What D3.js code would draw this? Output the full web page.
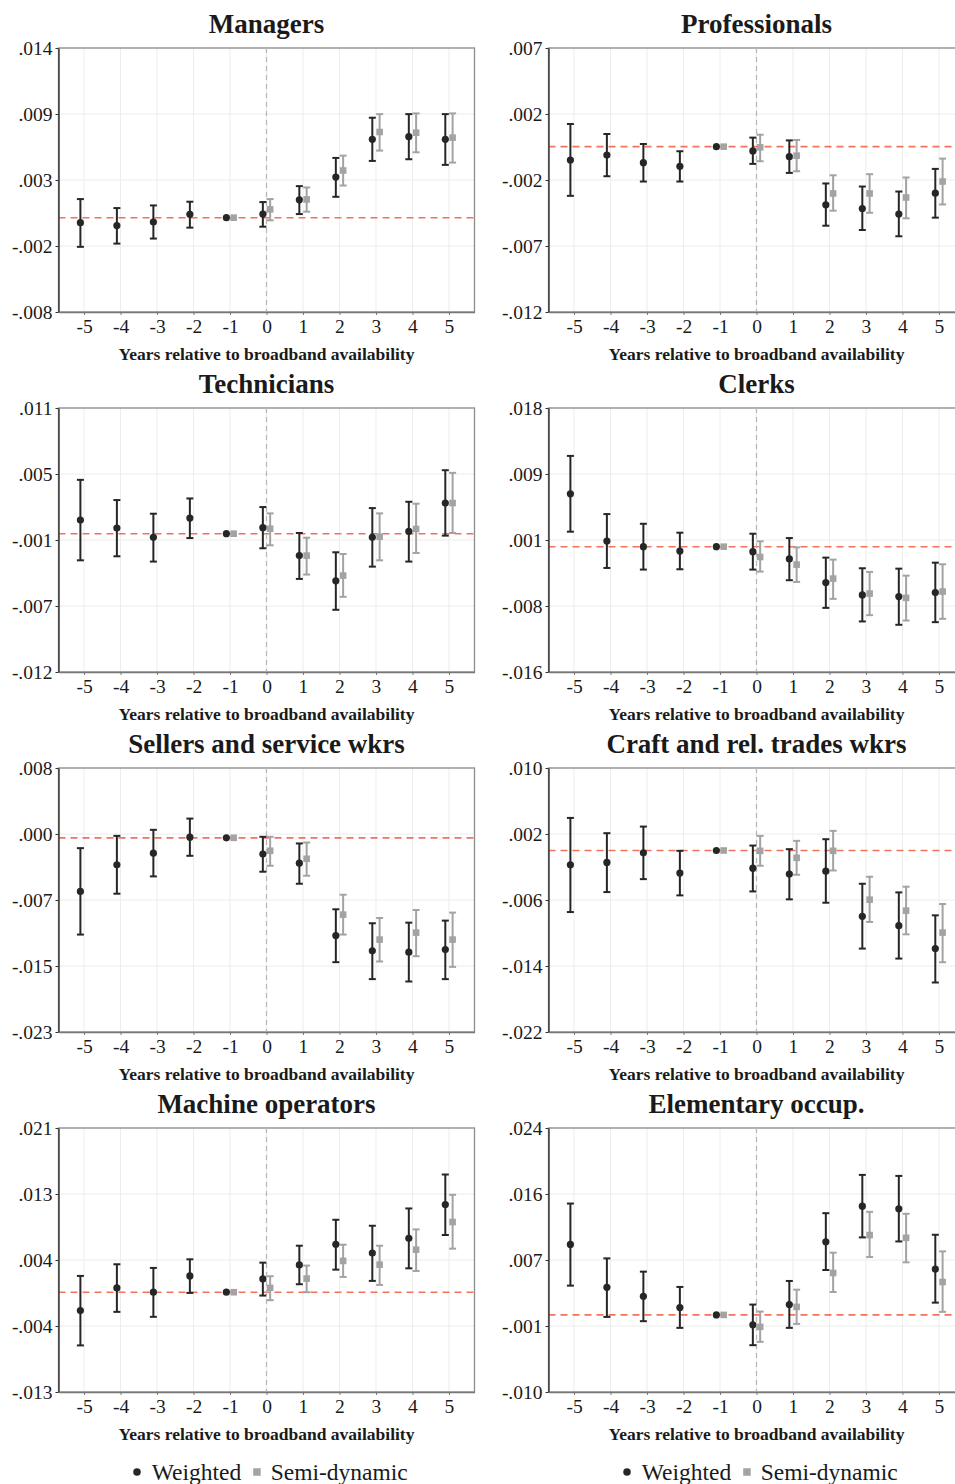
<!DOCTYPE html>
<html>
<head>
<meta charset="utf-8">
<script src="https://cdn.jsdelivr.net/npm/d3@7"></script>
<style>
  html, body { margin: 0; padding: 0; background: #fff; }
  svg { display: block; }
  text { font-family: "Liberation Serif", "Times New Roman", serif; fill: #1a1a1a; }
</style>
</head>
<body>
<svg id="chart" width="955" height="1484"></svg>
<script>
// Event-study coefficients by occupation group: [estimate, lower CI, upper CI]
const years = [-5, -4, -3, -2, -1, 0, 1, 2, 3, 4, 5];
const semiYears = [-1, 0, 1, 2, 3, 4, 5];

const titles = ["Managers", "Professionals", "Technicians", "Clerks",
  "Sellers and service wkrs", "Craft and rel. trades wkrs", "Machine operators", "Elementary occup."];

const managersWeighted = [[-0.00042,-0.00243,0.00155],[-0.00066,-0.00216,0.0008],[-0.00036,-0.00174,0.00102],[0.00028,-0.00083,0.00133],[0,0,0],[0.0003,-0.00075,0.0013],[0.00149,0.0003,0.00263],[0.00338,0.00174,0.00498],[0.00653,0.00473,0.00833],[0.00675,0.00487,0.00863],[0.00653,0.0044,0.00863]];
const managersSemi = [[0,0,0],[0.00069,-0.00022,0.00155],[0.00152,0.0005,0.00252],[0.00393,0.00268,0.00517],[0.00714,0.00559,0.00863],[0.00708,0.00545,0.00869],[0.00667,0.00459,0.00869]];

const professionalsWeighted = [[-0.00096,-0.00354,0.00163],[-0.0006,-0.00213,0.00091],[-0.00115,-0.00251,0.00019],[-0.00141,-0.00251,-0.00033],[0,0,0],[-0.00031,-0.00124,0.00065],[-0.00072,-0.00189,0.00045],[-0.00418,-0.00569,-0.00265],[-0.00445,-0.006,-0.00287],[-0.00485,-0.00645,-0.00323],[-0.00335,-0.00511,-0.0016]];
const professionalsSemi = [[0,0,0],[-0.00005,-0.00105,0.00086],[-0.00065,-0.00177,0.00048],[-0.00337,-0.00461,-0.00206],[-0.00337,-0.00476,-0.00198],[-0.00366,-0.00516,-0.00222],[-0.00251,-0.00416,-0.00086]];

const techniciansWeighted = [[0.00119,-0.00232,0.00469],[0.00049,-0.00197,0.00293],[-0.00032,-0.00243,0.00174],[0.00136,-0.00038,0.00307],[0,0,0],[0.00052,-0.00127,0.00232],[-0.00191,-0.00394,0.00006],[-0.00411,-0.00663,-0.00162],[-0.00032,-0.00287,0.00223],[0.0002,-0.00243,0.00278],[0.00267,-0.00017,0.00553]];
const techniciansSemi = [[0,0,0],[0.00043,-0.00101,0.00177],[-0.00191,-0.00356,-0.00035],[-0.00365,-0.0055,-0.00177],[-0.00026,-0.00232,0.00177],[0.00041,-0.00168,0.00261],[0.00267,0.00006,0.0053]];

const clerksWeighted = [[0.00681,0.00193,0.01169],[0.00073,-0.00274,0.0042],[0,-0.00295,0.00295],[-0.00056,-0.00291,0.0018],[0,0,0],[-0.00064,-0.00295,0.00167],[-0.00158,-0.00432,0.00111],[-0.00462,-0.00788,-0.00141],[-0.00621,-0.00963,-0.00278],[-0.00642,-0.01006,-0.00283],[-0.00591,-0.00972,-0.00206]];
const clerksSemi = [[0,0,0],[-0.00133,-0.00321,0.00069],[-0.00231,-0.00454,-0.00009],[-0.00411,-0.00672,-0.00167],[-0.00604,-0.00882,-0.00325],[-0.00659,-0.00951,-0.00373],[-0.00578,-0.00929,-0.00227]];

const sellersWeighted = [[-0.00629,-0.01136,-0.00121],[-0.00316,-0.00656,0.00023],[-0.0018,-0.00453,0.00094],[0.00008,-0.00211,0.00226],[0,0,0],[-0.00191,-0.00398,0.00012],[-0.00297,-0.00539,-0.00066],[-0.01148,-0.0146,-0.00839],[-0.01327,-0.01659,-0.01003],[-0.01343,-0.01687,-0.00996],[-0.01312,-0.01659,-0.00972]];
const sellersSemi = [[0,0,0],[-0.00152,-0.00328,0.00012],[-0.00246,-0.00445,-0.00055],[-0.00902,-0.01136,-0.00668],[-0.01195,-0.01452,-0.00941],[-0.01113,-0.0139,-0.00847],[-0.01195,-0.01515,-0.00878]];

const craftWeighted = [[-0.00173,-0.00746,0.00395],[-0.00145,-0.00504,0.0021],[-0.00028,-0.00347,0.0029],[-0.00274,-0.00544,-0.00004],[0,0,0],[-0.00214,-0.00496,0.0006],[-0.00286,-0.00592,0.00016],[-0.0025,-0.00633,0.00137],[-0.00798,-0.01189,-0.00403],[-0.00911,-0.0131,-0.00508],[-0.01189,-0.016,-0.00786]];
const craftSemi = [[0,0,0],[-0.00004,-0.00185,0.00177],[-0.00089,-0.00294,0.00117],[-0.00004,-0.00242,0.00238],[-0.00596,-0.00866,-0.00318],[-0.00729,-0.01016,-0.00439],[-0.00995,-0.01354,-0.00649]];

const machineWeighted = [[-0.00236,-0.00685,0.0021],[0.00056,-0.00253,0.0036],[0,-0.00317,0.00313],[0.0021,-0.00009,0.00424],[0,0,0],[0.00171,-0.00043,0.00381],[0.00351,0.00103,0.00599],[0.00617,0.00291,0.00933],[0.00505,0.00146,0.00856],[0.00694,0.00308,0.01079],[0.0113,0.00737,0.01516]];
const machineSemi = [[0,0,0],[0.00056,-0.00103,0.00206],[0.00176,0,0.00343],[0.00403,0.00197,0.00612],[0.00355,0.00094,0.00599],[0.00548,0.00274,0.00809],[0.00904,0.00561,0.01255]];

const elementaryWeighted = [[0.00908,0.00377,0.01434],[0.00355,-0.00026,0.00728],[0.0024,-0.00081,0.00557],[0.00094,-0.00167,0.0036],[0,0,0],[-0.00128,-0.0039,0.00133],[0.00133,-0.00167,0.00437],[0.00942,0.00578,0.0131],[0.014,0.00998,0.01803],[0.01366,0.00946,0.0179],[0.00591,0.00158,0.01032]];
const elementarySemi = [[0,0,0],[-0.00154,-0.00347,0.00043],[0.00103,-0.00116,0.00325],[0.0054,0.00295,0.00801],[0.01028,0.00745,0.01327],[0.00993,0.00677,0.01302],[0.00424,0.00039,0.00818]];

// y-axis extent and printed tick labels for each panel
const yDomains = [[-0.00786, 0.01414], [-0.0119, 0.0071], [-0.01205, 0.01095], [-0.01614, 0.01786],
  [-0.0228, 0.0082], [-0.022, 0.01], [-0.01285, 0.02115], [-0.00993, 0.02407]];
const yTickLabels = [
  ["-.008", "-.002", ".003", ".009", ".014"],
  ["-.012", "-.007", "-.002", ".002", ".007"],
  ["-.012", "-.007", "-.001", ".005", ".011"],
  ["-.016", "-.008", ".001", ".009", ".018"],
  ["-.023", "-.015", "-.007", ".000", ".008"],
  ["-.022", "-.014", "-.006", ".002", ".010"],
  ["-.013", "-.004", ".004", ".013", ".021"],
  ["-.010", "-.001", ".007", ".016", ".024"]
];

const weightedSeries = [managersWeighted, professionalsWeighted, techniciansWeighted, clerksWeighted,
  sellersWeighted, craftWeighted, machineWeighted, elementaryWeighted];
const semiSeries = [managersSemi, professionalsSemi, techniciansSemi, clerksSemi,
  sellersSemi, craftSemi, machineSemi, elementarySemi];

const legendLabels = ["Weighted", "Semi-dynamic"];
const xTitle = "Years relative to broadband availability";

// ---- layout ----
const svg = d3.select("#chart");
const plotW = 416, plotH = 264;
const colX = [58.5, 548.5];
const rowY0 = 48, rowStep = 360;
const dark = "#262626", grey = "#a3a3a3", zeroRed = "#f0735c";
const offset = 0.1;

const x = d3.scaleLinear().domain([-5.7, 5.7]).range([0, plotW]);

titles.forEach((title, i) => {
  const col = i % 2, row = Math.floor(i / 2);
  const g = svg.append("g").attr("transform", `translate(${colX[col]},${rowY0 + row * rowStep})`);
  const dom = yDomains[i];
  const y = d3.scaleLinear().domain(dom).range([plotH, 0]);
  const tickVals = d3.range(5).map(k => dom[0] + k * (dom[1] - dom[0]) / 4);
  const labels = yTickLabels[i];

  // grid
  g.append("g").selectAll("line.h").data(tickVals).join("line")
    .attr("x1", 0).attr("x2", plotW).attr("y1", d => y(d)).attr("y2", d => y(d))
    .attr("stroke", "#ececec").attr("stroke-width", 1);
  g.append("g").selectAll("line.v").data(years).join("line")
    .attr("x1", d => x(d)).attr("x2", d => x(d)).attr("y1", 0).attr("y2", plotH)
    .attr("stroke", "#ececec").attr("stroke-width", 1);

  // frame
  g.append("rect").attr("x", 0).attr("y", 0).attr("width", plotW).attr("height", plotH)
    .attr("fill", "none").attr("stroke", "#8c8c8c").attr("stroke-width", 1.3);

  // reference lines
  g.append("line").attr("x1", 0).attr("x2", plotW).attr("y1", y(0)).attr("y2", y(0))
    .attr("stroke", zeroRed).attr("stroke-width", 1.6).attr("stroke-dasharray", "7,5");
  g.append("line").attr("x1", x(0)).attr("x2", x(0)).attr("y1", 0).attr("y2", plotH)
    .attr("stroke", "#b8b8b8").attr("stroke-width", 1.3).attr("stroke-dasharray", "5,4");

  // axes
  const yAxis = d3.axisLeft(y).tickValues(tickVals).tickFormat((d, k) => labels[k])
    .tickSize(3).tickSizeOuter(0).tickPadding(3);
  const ya = g.append("g").call(yAxis);
  ya.select(".domain").attr("stroke", "#333").attr("stroke-width", 1.4);
  ya.selectAll(".tick line").attr("stroke", "#333");
  ya.selectAll(".tick text").attr("font-size", 19.5).attr("fill", "#1a1a1a")
    .attr("font-family", "Liberation Serif, serif");

  const xAxis = d3.axisBottom(x).tickValues(years).tickFormat(d => String(d))
    .tickSize(3).tickSizeOuter(0).tickPadding(4);
  const xa = g.append("g").attr("transform", `translate(0,${plotH})`).call(xAxis);
  xa.select(".domain").attr("stroke", "#777").attr("stroke-width", 1.3);
  xa.selectAll(".tick line").attr("stroke", "#777");
  xa.selectAll(".tick text").attr("font-size", 19.5).attr("fill", "#1a1a1a")
    .attr("font-family", "Liberation Serif, serif");

  // titles
  g.append("text").attr("x", plotW / 2).attr("y", -15).attr("text-anchor", "middle")
    .attr("font-size", 27).attr("font-weight", "bold").text(title);
  g.append("text").attr("x", plotW / 2).attr("y", plotH + 48).attr("text-anchor", "middle")
    .attr("font-size", 17.5).attr("font-weight", "bold").text(xTitle);

  // error bars + markers
  const drawBars = (data, yrs, shift, color) => {
    const pts = data.map((d, k) => ({ yr: yrs[k], est: d[0], lo: d[1], hi: d[2] }))
      .filter(d => d.hi > d.lo);
    const cg = g.append("g").attr("stroke", color).attr("stroke-width", 2);
    cg.selectAll("line.s").data(pts).join("line")
      .attr("x1", d => x(d.yr + shift)).attr("x2", d => x(d.yr + shift))
      .attr("y1", d => y(d.lo)).attr("y2", d => y(d.hi));
    ["lo", "hi"].forEach(key => {
      cg.selectAll(`line.c${key}`).data(pts).join("line")
        .attr("x1", d => x(d.yr + shift) - 3.5).attr("x2", d => x(d.yr + shift) + 3.5)
        .attr("y1", d => y(d[key])).attr("y2", d => y(d[key]));
    });
  };
  drawBars(semiSeries[i], semiYears, offset, grey);
  drawBars(weightedSeries[i], years, -offset, dark);

  g.append("g").selectAll("rect").data(semiSeries[i]).join("rect")
    .attr("x", (d, k) => x(semiYears[k] + offset) - 3.3)
    .attr("y", d => y(d[0]) - 3.3)
    .attr("width", 6.6).attr("height", 6.6).attr("fill", grey);
  g.append("g").selectAll("circle").data(weightedSeries[i]).join("circle")
    .attr("cx", (d, k) => x(years[k] - offset)).attr("cy", d => y(d[0]))
    .attr("r", 3.6).attr("fill", dark);

  // legend under the bottom row
  if (row === 3) {
    const lg = g.append("g").attr("transform", `translate(${plotW / 2 + 4},${plotH + 80})`);
    const t1 = lg.append("text").attr("font-size", 23.5).attr("y", 7.5).text(legendLabels[0]);
    const t2 = lg.append("text").attr("font-size", 23.5).attr("y", 7.5).text(legendLabels[1]);
    const w1 = t1.node().getComputedTextLength();
    const w2 = t2.node().getComputedTextLength();
    const total = 7.5 + 11 + w1 + 12 + 7.5 + 10 + w2;
    let cx = -total / 2;
    lg.append("circle").attr("cx", cx + 3.75).attr("cy", 0).attr("r", 3.75).attr("fill", dark);
    cx += 7.5 + 11;
    t1.attr("x", cx);
    cx += w1 + 12;
    lg.append("rect").attr("x", cx).attr("y", -3.75).attr("width", 7.5).attr("height", 7.5).attr("fill", grey);
    cx += 7.5 + 10;
    t2.attr("x", cx);
  }
});
</script>
</body>
</html>
